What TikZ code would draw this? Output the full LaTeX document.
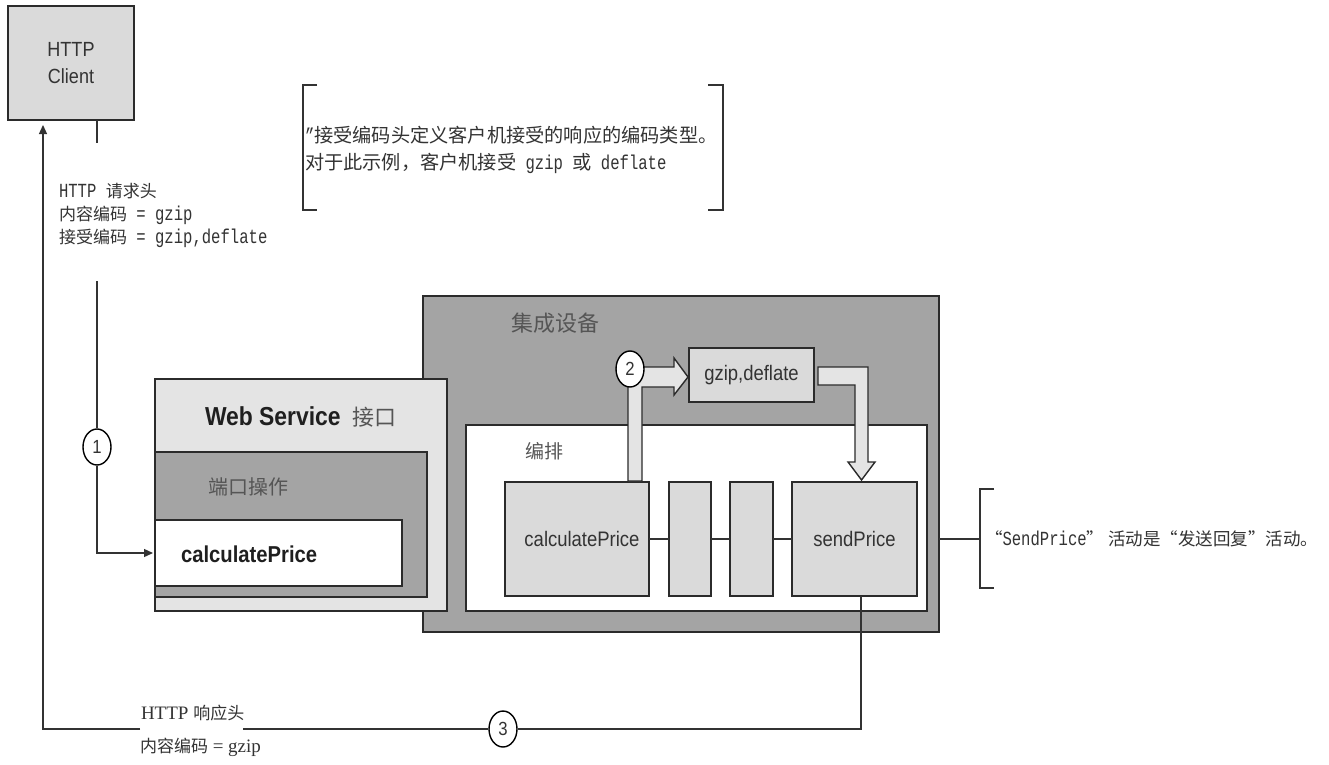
\documentclass[tikz,border=0pt]{standalone}
\usepackage{fontspec}
\setmainfont{Liberation Sans}
\newfontfamily\cjk{Noto Sans CJK SC}
\newfontfamily\narrow[FakeStretch=0.88]{Liberation Sans}
\newfontfamily\mono[FakeStretch=0.78]{Liberation Mono}
\newfontfamily\lserif{Liberation Serif}
\usetikzlibrary{shapes.geometric,arrows.meta}
\definecolor{bord}{HTML}{2B2B2B}
\definecolor{lc}{HTML}{333333}
\definecolor{lightg}{HTML}{DADADA}
\definecolor{paleg}{HTML}{E4E4E4}
\definecolor{darkg}{HTML}{A4A4A4}
\definecolor{txtg}{HTML}{555555}
\definecolor{txtd}{HTML}{333333}
\newcommand\zh[1]{{\cjk #1}}
\begin{document}
\begin{tikzpicture}[x=1pt,y=-1pt,
  box/.style={draw=bord, line width=1.6pt, inner sep=0pt, outer sep=0pt, anchor=north west},
  conn/.style={draw=lc, line width=1.3pt},
  arr/.style={-{Triangle[length=9pt,width=8pt]}},
  num/.style={ellipse, draw=black, line width=1.4pt, fill=white, minimum width=28pt, minimum height=36pt, inner sep=0pt, text=txtd, font=\narrow\fontsize{19}{19}\selectfont},
  hollow/.style={draw=bord, line width=1.4pt, fill=paleg, line join=miter},
  lbl/.style={inner sep=0pt, outer sep=0pt},
  brk/.style={draw=lc, line width=1.6pt}
]
\useasboundingbox[fill=white] (0,0) rectangle (1329,764);

% HTTP client
\node[box, fill=lightg, minimum width=126, minimum height=114] (client) at (8,6) {};
\node[lbl, align=center, text=txtd, font=\narrow\fontsize{20.5}{27}\selectfont] (clientlbl) at (client.center) {HTTP\\Client};

% integration device
\node[box, fill=darkg, minimum width=516, minimum height=336] (dev) at (423,296) {};
\node[lbl, anchor=west, text=txtg, font=\cjk\fontsize{22}{22}\selectfont] (devlbl) at (511,323) {集成设备};

% web service interface
\node[box, fill=paleg, minimum width=292, minimum height=232] (ws) at (155,379) {};
\node[box, fill=darkg, minimum width=272, minimum height=145] (port) at (155,452) {};
\node[box, fill=white, minimum width=247, minimum height=66] (wcalc) at (155,520) {};
\node[lbl, anchor=west] (wslbl) at (205,417) {{\narrow\bfseries\fontsize{26}{26}\selectfont\color{black!88}Web Service}\hspace{12pt}{\cjk\fontsize{22}{22}\selectfont\color{txtg}接口}};
\node[lbl, anchor=west, text=txtg, font=\cjk\fontsize{20}{20}\selectfont] (portlbl) at (208,487) {端口操作};
\node[lbl, anchor=west, text=black!88, font=\narrow\bfseries\fontsize{23}{23}\selectfont] (wcalclbl) at (181,554) {calculatePrice};

% orchestration
\node[box, fill=white, minimum width=461, minimum height=186] (orch) at (466,425) {};
\node[lbl, anchor=west, text=txtg, font=\cjk\fontsize{19}{19}\selectfont] (orchlbl) at (525,451) {编排};
\node[box, fill=lightg, minimum width=144, minimum height=114] (ocalc) at (505,482) {};
\node[lbl, text=txtd, font=\narrow\fontsize{21}{21}\selectfont] (ocalclbl) at ([xshift=5pt]ocalc.center) {calculatePrice};
\node[box, fill=lightg, minimum width=42, minimum height=114] (b1) at (669,482) {};
\node[box, fill=lightg, minimum width=43, minimum height=114] (b2) at (730,482) {};
\node[box, fill=lightg, minimum width=125, minimum height=114] (sp) at (792,482) {};
\node[lbl, text=txtd, font=\narrow\fontsize{21}{21}\selectfont] (splbl) at (sp.center) {sendPrice};
\draw[conn] (ocalc.east) -- (b1.west);
\draw[conn] (b1.east) -- (b2.west);
\draw[conn] (b2.east) -- (sp.west);

% gzip box
\node[box, fill=lightg, minimum width=125, minimum height=54] (gz) at (689,348) {};
\node[lbl, text=txtd, font=\narrow\fontsize{21}{21}\selectfont] (gzlbl) at (gz.center) {gzip,deflate};

% hollow arrows
\draw[hollow] (628,481) -- (628,367) -- (674,367) -- (674,358) -- (688,377) -- (674,395) -- (674,387) -- (642,387) -- (642,481) -- cycle;
\draw[hollow] (818,367) -- (868,367) -- (868,462) -- (875,462) -- (861.5,480) -- (848,462) -- (855,462) -- (855,385) -- (818,385) -- cycle;
\node[num] (n2) at (630,369) {2};

% note top
\draw[brk] (317,85) -- (303,85) -- (303,210) -- (317,210);
\draw[brk] (708,85) -- (723,85) -- (723,210) -- (708,210);
\node[lbl, anchor=west, align=left, text=txtd, font=\mono\fontsize{20}{27}\selectfont] (note1) at (305,150)
  {”\zh{\fontsize{19.2}{27}\selectfont 接受编码头定义客户机接受的响应的编码类型。}\\
   \zh{\fontsize{19.2}{27}\selectfont 对于此示例，客户机接受} gzip \zh{\fontsize{19.2}{27}\selectfont 或} deflate};

% request headers
\node[lbl, anchor=west, align=left, text=txtd, font=\mono\fontsize{20}{23}\selectfont] (reqlbl) at (59,215)
  {HTTP \zh{\fontsize{17}{23}\selectfont 请求头}\\ \zh{\fontsize{17}{23}\selectfont 内容编码} = gzip\\ \zh{\fontsize{17}{23}\selectfont 接受编码} = gzip,deflate};
\coordinate (rq1) at (97,143);
\coordinate (rq2) at (97,281);
\node[num] (n1) at (97,447) {1};
\draw[conn] (client.south -| rq1) -- (rq1);
\draw[conn] (rq2) -- (n1);
\draw[conn, arr, shorten >=2pt] (n1) -- (rq2 |- wcalc.west) -- (wcalc.west);

% response
\coordinate (spb) at (861,596);
\node[num] (n3) at (503,729) {3};
\coordinate (g2) at (243,729);
\coordinate (g1) at (140,729);
\coordinate (bl) at (43,729);
\draw[conn] (spb) -- (spb |- n3) -- (n3);
\draw[conn] (n3) -- (g2);
\draw[conn, arr, shorten >=5pt] (g1) -- (bl) -- (client.south -| bl);
\node[lbl, anchor=west, text=txtd, font=\lserif\fontsize{19}{19}\selectfont] (resp1) at (141,713) {HTTP \zh{\fontsize{17}{17}\selectfont 响应头}};
\node[lbl, anchor=west, text=txtd, font=\lserif\fontsize{19}{19}\selectfont] (resp2) at (140,747) {\zh{\fontsize{17}{17}\selectfont 内容编码} = gzip};

% right note
\draw[conn] (dev.east |- sp.east) -- (980,539);
\draw[brk] (994,489) -- (980,489) -- (980,588) -- (994,588);
\node[lbl, anchor=west, text=txtd, font=\mono\fontsize{20}{20}\selectfont] (note2) at (985,539)
  {\zh{\fontsize{17.5}{17}\selectfont “}SendPrice\zh{\fontsize{17.5}{17}\selectfont ” 活动是“发送回复”活动。}};
\end{tikzpicture}
\end{document}
